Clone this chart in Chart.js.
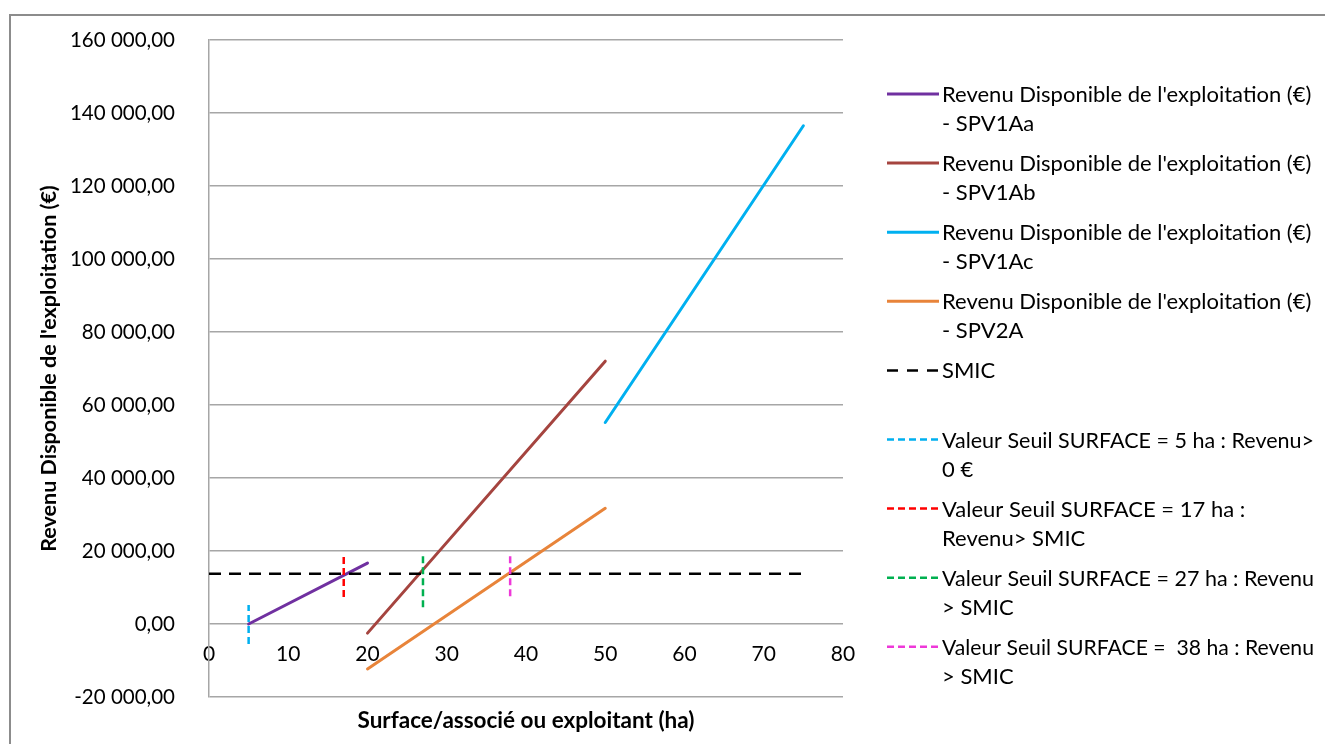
<!DOCTYPE html>
<html>
<head>
<meta charset="utf-8">
<script src="https://cdn.jsdelivr.net/npm/chart.js@4"></script>
<style>
  body { margin: 0; background: #fff; overflow: hidden; }
  #frame { position: absolute; left: 9px; top: 14px; width: 1400px; height: 800px; border: 2px solid #8c8c8c; }
  #revenu-chart { position: absolute; left: 0; top: 0; }
</style>
</head>
<body>
<div id="frame"></div>
<canvas id="revenu-chart" width="1325" height="744"></canvas>
<script>
// surfaces (ha) and revenus (€)
const spv1aaX = [5, 20];
const spv1aaY = [0, 16700];
const spv1abX = [20, 50];
const spv1abY = [-2500, 72000];
const spv1acX = [50, 75];
const spv1acY = [55200, 136500];
const spv2aX = [20, 50];
const spv2aY = [-12300, 31700];
const smicX = [0, 75];
const smicY = [13800, 13800];
const seuil5X = [5, 5];
const seuil5Y = [-5500, 5200];
const seuil17X = [17, 17];
const seuil17Y = [7400, 18600];
const seuil27X = [27, 27];
const seuil27Y = [4600, 19100];
const seuil38X = [38, 38];
const seuil38Y = [7600, 19100];

const xTicks = [0, 10, 20, 30, 40, 50, 60, 70, 80];
const yTicks = [-20000, 0, 20000, 40000, 60000, 80000, 100000, 120000, 140000, 160000];

const seriesLabels = [
  ["Revenu Disponible de l'exploitation (€)", "- SPV1Aa"],
  ["Revenu Disponible de l'exploitation (€)", "- SPV1Ab"],
  ["Revenu Disponible de l'exploitation (€)", "- SPV1Ac"],
  ["Revenu Disponible de l'exploitation (€)", "- SPV2A"],
  ["SMIC"],
  ["Valeur Seuil SURFACE = 5 ha : Revenu>", "0 €"],
  ["Valeur Seuil SURFACE = 17 ha :", "Revenu> SMIC"],
  ["Valeur Seuil SURFACE = 27 ha : Revenu", "> SMIC"],
  ["Valeur Seuil SURFACE =  38 ha : Revenu", "> SMIC"]
];

const FONT = 'Lato';

function pts(xs, ys) {
  return xs.map((x, i) => ({ x: x, y: ys[i] }));
}

function frNumber(v) {
  const parts = Math.abs(v).toFixed(2).split('.');
  const int = parts[0].replace(/\B(?=(\d{3})+(?!\d))/g, ' ');
  return (v < 0 ? '-' : '') + int + ',' + parts[1];
}

function serie(i, xs, ys, color, dash) {
  return {
    label: seriesLabels[i].join(' '),
    lines: seriesLabels[i],
    data: pts(xs, ys),
    borderColor: color,
    borderWidth: dash ? 2.5 : 3,
    borderDash: dash || [],
    borderCapStyle: dash ? 'butt' : 'round',
    showLine: true,
    pointRadius: 0,
    order: 20 - i
  };
}

const sideLegend = {
  id: 'sideLegend',
  afterDraw(chart) {
    const ctx = chart.ctx;
    ctx.save();
    chart.data.datasets.forEach((ds, i) => {
      const y = 94 + i * 69.1;
      ctx.beginPath();
      ctx.strokeStyle = ds.borderColor;
      ctx.lineWidth = ds.borderWidth;
      ctx.setLineDash(ds.legendDash || ds.borderDash);
      ctx.moveTo(887, y);
      ctx.lineTo(939, y);
      ctx.stroke();
      ctx.setLineDash([]);
      ctx.fillStyle = '#000';
      ctx.font = '22px "' + FONT + '"';
      ctx.textBaseline = 'alphabetic';
      ctx.textAlign = 'left';
      // keep long lines inside the frame, like the wrapped Excel legend
      ds.lines.forEach((t, k) => ctx.fillText(t, 942, y + 8 + k * 29, 372));
    });
    ctx.restore();
  }
};

const datasets = [
  serie(0, spv1aaX, spv1aaY, '#7030A0'),
  serie(1, spv1abX, spv1abY, '#A5443F'),
  serie(2, spv1acX, spv1acY, '#00B0F0'),
  serie(3, spv2aX, spv2aY, '#E8843A'),
  serie(4, smicX, smicY, '#000000', [12, 8]),
  serie(5, seuil5X, seuil5Y, '#00B0F0', [7, 4]),
  serie(6, seuil17X, seuil17Y, '#FF0000', [7, 4]),
  serie(7, seuil27X, seuil27Y, '#00B050', [7, 4]),
  serie(8, seuil38X, seuil38Y, '#EE38D8', [7, 4])
];
datasets[4].legendDash = [11, 9];

new Chart(document.getElementById('revenu-chart').getContext('2d'), {
  type: 'scatter',
  data: { datasets: datasets },
  options: {
    responsive: false,
    animation: false,
    layout: { padding: { left: 0, top: 40, right: 482, bottom: 0 } },
    plugins: { legend: { display: false }, tooltip: { enabled: false } },
    elements: { line: { tension: 0 } },
    scales: {
      x: {
        type: 'linear',
        position: { y: 0 },
        min: 0,
        max: 80,
        afterBuildTicks: s => { s.ticks = xTicks.map(v => ({ value: v })); },
        afterFit: s => { s.height = 0; },
        ticks: { padding: 10, color: '#000', font: { family: FONT, size: 21 }, maxRotation: 0, autoSkip: false },
        grid: { display: false },
        border: { display: false }
      },
      x2: {
        type: 'linear',
        position: 'bottom',
        min: 0,
        max: 80,
        afterFit: s => { s.height = 47; },
        ticks: { display: false },
        grid: { display: false },
        border: { display: false },
        title: {
          display: true,
          text: 'Surface/associé ou exploitant (ha)',
          color: '#000',
          font: { family: FONT, size: 22.5, weight: 'bold' },
          padding: { top: 0, bottom: 10 }
        }
      },
      y: {
        min: -20000,
        max: 160000,
        afterBuildTicks: s => { s.ticks = yTicks.map(v => ({ value: v })); },
        afterFit: s => { s.width = 209; s.paddingTop = 0; s.paddingBottom = 0; },
        ticks: { padding: 34, color: '#000', font: { family: FONT, size: 20.5 }, callback: v => frNumber(v) },
        grid: { color: '#a6a6a6', lineWidth: 1.5, drawTicks: false },
        border: { color: '#a6a6a6', width: 1.5 },
        title: {
          display: true,
          text: "Revenu Disponible de l'exploitation (€)",
          color: '#000',
          font: { family: FONT, size: 21.5, weight: 'bold' },
          padding: { top: 36 }
        }
      }
    }
  },
  plugins: [sideLegend]
});
</script>
</body>
</html>
